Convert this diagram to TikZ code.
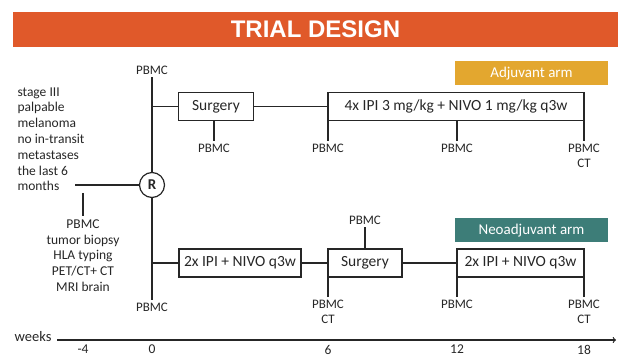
\documentclass[tikz,border=0pt]{standalone}
\usepackage{fontspec}
\setmainfont{Carlito}
\newfontfamily\titlefont{Liberation Sans}
\usetikzlibrary{shapes,arrows,positioning}

\definecolor{bannerorange}{HTML}{E0592A}
\definecolor{adjgold}{HTML}{E3A72F}
\definecolor{neoteal}{HTML}{3D7D78}
\definecolor{inkgray}{HTML}{262626}

\begin{document}
\begin{tikzpicture}[
    x=1pt, y=-1pt,
    every node/.style={text=inkgray},
    banner/.style={rectangle, fill=bannerorange, minimum width=605pt, minimum height=35pt, font=\titlefont\fontsize{24}{28}\selectfont\bfseries, text=white},
    armtag/.style={rectangle, minimum width=153pt, minimum height=24pt, font=\fontsize{15}{18}\selectfont, text=white},
    treat/.style={rectangle, draw=inkgray, line width=1.2pt, minimum height=28pt, font=\fontsize{15.5}{18}\selectfont, inner sep=2pt},
    sample/.style={font=\fontsize{13}{14.5}\selectfont, align=center, inner sep=3pt},
    notes/.style={font=\fontsize{13.5}{15.8}\selectfont},
    link/.style={draw=inkgray, line width=1.2pt},
    arrow/.style={->, draw=inkgray, line width=1.2pt}
]
\useasboundingbox (0,0) rectangle (618,355);

% Title
\node[banner] (title) at (315.5,29.5) {TRIAL DESIGN};

% Arm labels
\node[armtag, fill=adjgold] (adjtag) at (531.5,73.5) {Adjuvant arm};
\node[armtag, fill=neoteal] (neotag) at (531.5,230.5) {Neoadjuvant arm};

% Inclusion and randomisation
\node[notes, align=left, anchor=north west] (incl) at (14,84) {stage III\\palpable\\melanoma\\no in-transit\\metastases\\the last 6\\months};
\coordinate (inclend) at (75,185);
\node[circle, draw=inkgray, line width=1.2pt, minimum size=25pt, inner sep=0pt, font=\fontsize{15}{17}\selectfont\bfseries] (rnd) at (152,185) {R};
\coordinate (screentop) at (83,193);
\node[notes, align=center, anchor=north] (screen) at (83,216) {PBMC\\tumor biopsy\\HLA typing\\PET/CT+ CT\\MRI brain};

% Adjuvant arm
\node[treat, minimum width=75pt] (surgA) at (216,106.5) {Surgery};
\node[treat, minimum width=256pt] (ipiA) at (456,106.5) {4x IPI 3 mg/kg + NIVO 1 mg/kg q3w};

% Neoadjuvant arm
\node[treat, minimum width=122pt] (ipiN) at (240,263) {2x IPI + NIVO q3w};
\node[treat, minimum width=74pt] (surgN) at (365,263) {Surgery};
\node[treat, minimum width=127pt] (ipiN2) at (520.5,263) {2x IPI + NIVO q3w};

% Sampling points
\node[sample] (p0top) at (152,70) {PBMC};
\node[sample] (p0bot) at (152,307) {PBMC};
\node[sample, anchor=north] (pSA) at (214,141) {PBMC};
\node[sample, anchor=north] (pA6) at (328,141) {PBMC};
\node[sample, anchor=north] (pA12) at (457,141) {PBMC};
\node[sample, anchor=north] (pA18) at (584,141) {PBMC\\CT};
\node[sample] (pSN) at (365,220) {PBMC};
\node[sample, anchor=north] (pN6) at (328,297) {PBMC\\CT};
\node[sample, anchor=north] (pN12) at (457,297) {PBMC};
\node[sample, anchor=north] (pN18) at (584,297) {PBMC\\CT};

% Time axis
\coordinate (ax0) at (57,340);
\coordinate (ax1) at (616,340);
\node[notes, anchor=east, font=\fontsize{14.5}{16}\selectfont] (weeks) at (55,337) {weeks};
\foreach \wk/\xx in {-4/83, 0/152, 6/328, 12/457, 18/584}
    \node[notes, anchor=north, inner sep=1pt] (wk\xx) at (\xx,344) {\wk};

% Randomisation lines
\draw[link] (inclend) -- (rnd.west);
\draw[link] (screentop) -- (screen.north);
\draw[link] (p0top.south) -- (rnd.north);
\draw[link] (rnd.south) -- (p0bot.north);
\draw[link] (surgA.west -| rnd) -- (surgA.west);
\draw[link] (ipiN.west -| rnd) -- (ipiN.west);

% Treatment flow
\draw[link] (surgA) -- (ipiA);
\draw[link] (ipiN) -- (surgN);
\draw[link] (surgN) -- (ipiN2);

% Sampling ticks
\draw[link] (pSA.north) -- (pSA.north |- surgA.south);
\draw[link] (pA6.north) -- (pA6.north |- ipiA.south);
\draw[link] (pA12.north) -- (pA12.north |- ipiA.south);
\draw[link] (pA18.north) -- (pA18.north |- ipiA.south);
\draw[link] (pSN.south) -- (surgN.north);
\draw[link] (pN6.north) -- (pN6.north |- surgN.south);
\draw[link] (pN12.north) -- (pN12.north |- ipiN2.south);
\draw[link] (pN18.north) -- (pN18.north |- ipiN2.south);

% Axis
\draw[arrow] (ax0) -- (ax1);

\end{tikzpicture}
\end{document}
